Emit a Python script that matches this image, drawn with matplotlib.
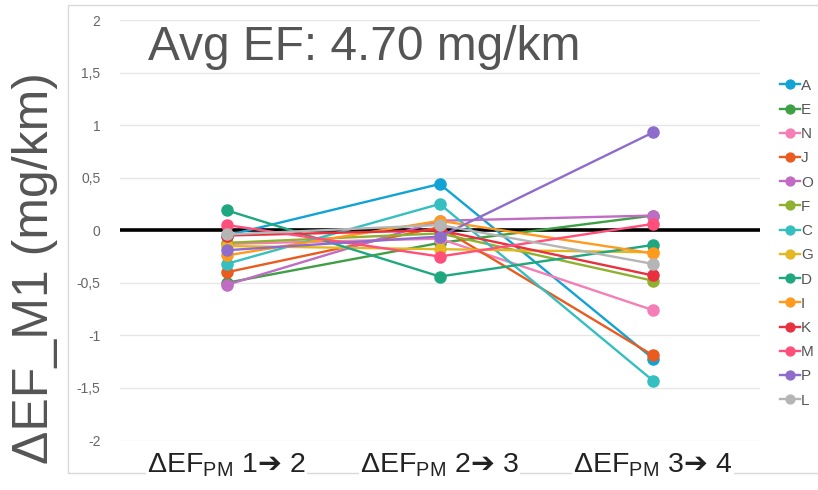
import matplotlib.pyplot as plt
from matplotlib.patches import Rectangle

plt.rcParams['font.family'] = ['Liberation Sans', 'DejaVu Sans']
plt.rcParams['mathtext.fontset'] = 'custom'
plt.rcParams['mathtext.sf'] = 'Liberation Sans'
plt.rcParams['mathtext.rm'] = 'DejaVu Sans'

# change of EF between consecutive steps, one line per vehicle
steps = ['Δ$\\mathsf{EF}_{\\mathsf{PM}}$ 1$\\mathrm{➔}$ 2',
         'Δ$\\mathsf{EF}_{\\mathsf{PM}}$ 2$\\mathrm{➔}$ 3',
         'Δ$\\mathsf{EF}_{\\mathsf{PM}}$ 3$\\mathrm{➔}$ 4']
names = ['A', 'E', 'N', 'J', 'O', 'F', 'C', 'G', 'D', 'I', 'K', 'M', 'P', 'L']
A = [-0.05, 0.44, -1.22]
E = [-0.50, -0.12, 0.14]
N = [-0.13, -0.08, -0.76]
J = [-0.40, 0.03, -1.19]
O = [-0.52, 0.09, 0.14]
F = [-0.12, -0.03, -0.48]
C = [-0.32, 0.25, -1.43]
G = [-0.15, -0.18, -0.21]
D = [0.19, -0.44, -0.14]
I = [-0.24, 0.09, -0.22]
K = [-0.05, 0.00, -0.43]
M = [0.05, -0.25, 0.06]
P = [-0.19, -0.06, 0.93]
L = [-0.04, 0.05, -0.32]
series = [A, E, N, J, O, F, C, G, D, I, K, M, P, L]
colors = ['#12a3d6', '#3e9f45', '#f57eb6', '#e95b1f', '#c06cc4', '#8fb12f',
          '#35bfc0', '#e3b822', '#1fa880', '#ff9a1f', '#e8303f', '#ff4f7a',
          '#8e6ccb', '#b5b5b5']

fig = plt.figure(figsize=(8.18, 4.90), dpi=100)
fig.patches.append(Rectangle((68 / 818, 1 - 473 / 490), 0.95, 468 / 490,
                             transform=fig.transFigure, fill=False,
                             edgecolor='#d9d9d9', lw=1, zorder=-1))
ax = fig.add_axes([120 / 818, 1 - 440.5 / 490, 639.5 / 818, 420.5 / 490])
ax.patch.set_alpha(0)

x = list(range(len(steps)))
for name, vals, c in zip(names, series, colors):
    ax.plot(x, vals, color=c, lw=1.7, marker='o', markersize=8, label=name)

ax.axhline(0, color='black', lw=2.6, zorder=1)
ax.set_xlim(-0.5, 2.5)
ax.set_ylim(-2, 2)
yt = [-2, -1.5, -1, -0.5, 0, 0.5, 1, 1.5, 2]
ax.set_yticks(yt)
ax.set_yticklabels([('%g' % v).replace('.', ',') for v in yt])
ax.grid(axis='y', color='#e6e6e6', lw=1)
ax.set_axisbelow(True)
for s in ax.spines.values():
    s.set_visible(False)
ax.tick_params(axis='y', length=0, pad=14, labelsize=10, labelcolor='#666666')
ax.set_xticks(x)
ax.set_xticklabels(steps)
ax.tick_params(axis='x', length=0, pad=8, labelsize=20.5, labelcolor='#222222')
for t in ax.get_xticklabels():
    t.set_bbox(dict(facecolor='white', edgecolor='none', pad=1))

leg = ax.legend(loc='upper left', bbox_to_anchor=(772 / 818, 1 - 71 / 490),
                bbox_transform=fig.transFigure, frameon=False, fontsize=11,
                handlelength=1.3, handletextpad=0.1, labelspacing=0.67,
                borderpad=0, markerscale=0.8)
for t in leg.get_texts():
    t.set_color('#555555')

fig.text(148 / 818, 1 - 48 / 490, 'Avg EF: 4.70 mg/km', fontsize=34.5,
         color='#555555', va='center', ha='left')
fig.text(35 / 818, 1 - 268 / 490, 'ΔEF_M1 (mg/km)', fontsize=36,
         color='#555555', rotation=90, va='center', ha='center')

plt.savefig('out.png', dpi=100)
